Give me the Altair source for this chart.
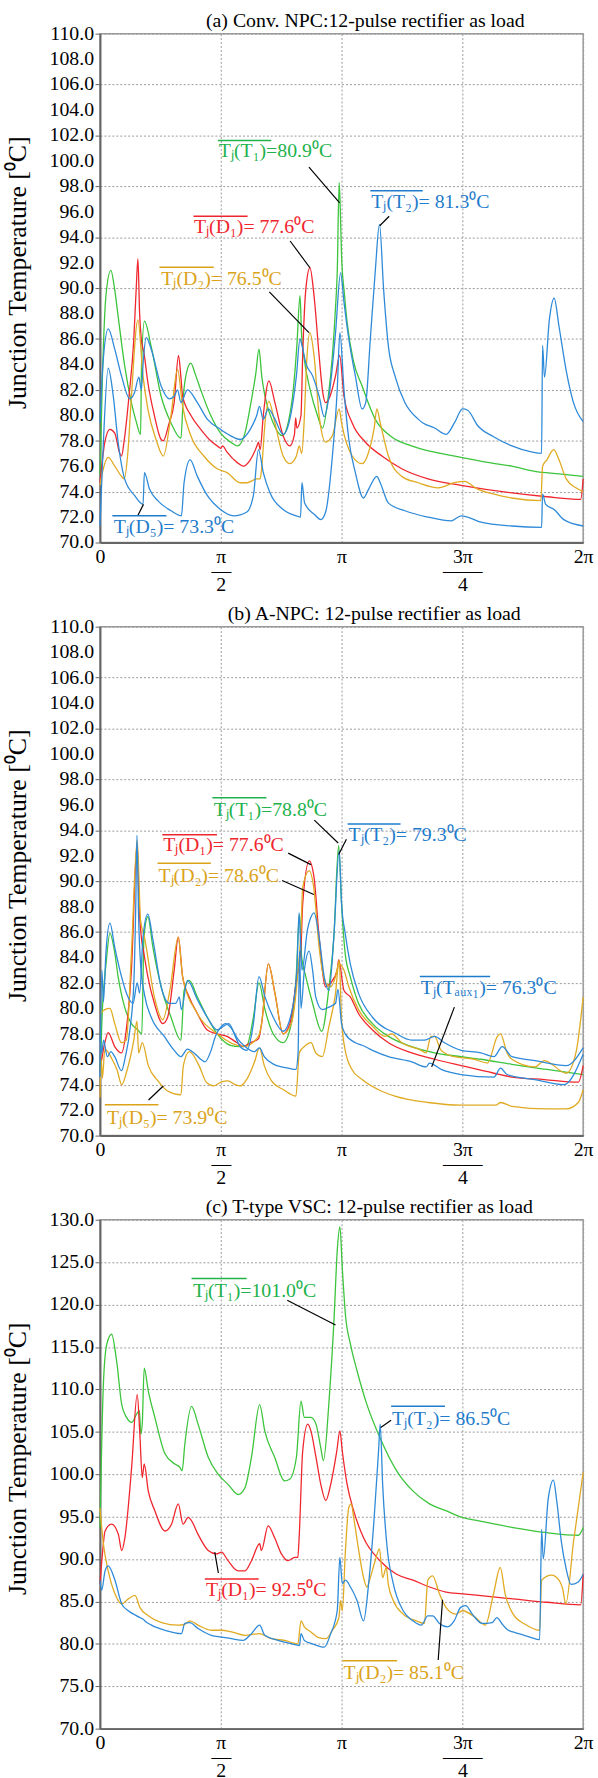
import altair as alt
import pandas as pd

FONT = "Liberation Serif"
GREEN, RED, ORANGE, BLUE = "#3cc43c", "#f0262e", "#e0aa22", "#2e8ad8"
GREEN_T, BLUE_T, ORANGE_T = "#22b24c", "#1f7ccc", "#dba31a"

# x in units of pi (0..2), y in degC
A_T1 = [(0.000,75.3),(0.010,83.0),(0.025,89.5),(0.045,91.4),(0.060,90.0),(0.075,87.8),(0.102,83.9),(0.130,81.0),(0.150,79.5),(0.168,78.5),(0.172,84.0),(0.184,87.4),(0.212,85.4),(0.253,81.5),(0.294,79.4),(0.335,78.2),(0.345,81.5),(0.360,83.5),(0.376,84.1),(0.395,83.2),(0.417,82.0),(0.458,80.0),(0.499,78.6),(0.540,77.9),(0.570,77.6),(0.600,78.6),(0.622,80.7),(0.645,83.3),(0.658,85.2),(0.670,83.0),(0.683,81.5),(0.717,79.4),(0.755,78.4),(0.780,79.5),(0.800,82.0),(0.815,85.5),(0.828,89.4),(0.834,86.5),(0.845,84.5),(0.870,82.0),(0.900,80.0),(0.921,79.0),(0.945,81.5),(0.962,84.7),(0.975,88.5),(0.982,91.2),(0.990,98.3),(0.995,96.0),(1.000,92.5),(1.012,89.5),(1.023,87.3),(1.050,84.2),(1.085,82.3),(1.139,79.7),(1.208,78.3),(1.289,77.6),(1.385,77.1),(1.495,76.7),(1.604,76.3),(1.705,76.0),(1.800,75.6),(1.900,75.4),(2.000,75.2)]
A_D1 = [(0.000,74.7),(0.010,76.5),(0.020,77.9),(0.041,78.9),(0.061,78.6),(0.082,77.0),(0.089,76.8),(0.100,78.0),(0.120,81.5),(0.140,86.0),(0.150,90.0),(0.157,92.3),(0.164,88.0),(0.171,86.0),(0.182,84.9),(0.198,82.6),(0.225,80.0),(0.253,78.1),(0.262,78.0),(0.285,79.3),(0.307,81.0),(0.325,84.7),(0.335,83.0),(0.342,81.5),(0.376,80.0),(0.417,78.9),(0.458,78.0),(0.492,77.5),(0.500,77.4),(0.507,77.6),(0.526,77.1),(0.567,76.3),(0.594,76.0),(0.622,76.5),(0.650,77.6),(0.656,77.9),(0.663,77.3),(0.676,80.0),(0.699,82.7),(0.724,81.0),(0.758,78.4),(0.786,77.6),(0.805,78.5),(0.810,79.8),(0.815,79.0),(0.832,80.0),(0.839,84.7),(0.852,89.9),(0.869,91.6),(0.886,89.4),(0.907,84.7),(0.922,81.8),(0.934,81.0),(0.948,81.3),(0.975,83.1),(0.992,84.7),(1.010,81.5),(1.044,79.4),(1.098,77.9),(1.167,76.8),(1.249,75.8),(1.358,75.0),(1.495,74.5),(1.705,73.9),(1.850,73.6),(1.990,73.4),(2.000,75.0)]
A_D2 = [(0.000,74.5),(0.010,75.5),(0.034,76.7),(0.061,76.0),(0.089,75.2),(0.100,75.0),(0.115,77.0),(0.130,81.5),(0.157,87.5),(0.178,83.1),(0.198,80.5),(0.232,78.1),(0.262,76.8),(0.294,80.0),(0.321,83.6),(0.342,80.7),(0.376,78.4),(0.430,76.8),(0.485,75.8),(0.526,75.5),(0.580,74.7),(0.608,74.7),(0.649,75.0),(0.663,75.0),(0.670,76.0),(0.683,79.4),(0.699,81.1),(0.724,79.4),(0.758,76.8),(0.786,76.2),(0.813,76.8),(0.825,77.6),(0.835,77.0),(0.845,79.5),(0.855,84.0),(0.869,86.5),(0.886,84.7),(0.907,80.0),(0.934,77.9),(0.962,78.4),(0.990,80.5),(1.000,79.4),(1.044,76.8),(1.085,76.2),(1.112,77.1),(1.135,79.0),(1.146,80.5),(1.160,79.4),(1.194,76.8),(1.249,75.2),(1.317,74.7),(1.400,74.3),(1.467,74.7),(1.508,74.8),(1.563,74.2),(1.631,73.8),(1.705,73.5),(1.825,73.3),(1.832,76.0),(1.850,76.5),(1.878,77.3),(1.900,76.5),(1.930,75.0),(1.970,74.3),(2.000,74.0)]
A_T2 = [(0.000,79.4),(0.012,84.0),(0.034,86.8),(0.061,85.2),(0.089,83.1),(0.123,81.3),(0.143,81.8),(0.161,83.0),(0.171,82.0),(0.180,84.5),(0.191,86.1),(0.212,85.2),(0.253,82.3),(0.287,81.3),(0.307,81.5),(0.321,82.0),(0.335,81.0),(0.362,82.0),(0.403,81.0),(0.444,79.7),(0.499,78.9),(0.540,78.4),(0.580,78.1),(0.622,78.9),(0.649,80.0),(0.660,80.7),(0.676,79.7),(0.697,80.5),(0.724,79.7),(0.758,78.5),(0.786,79.7),(0.813,83.1),(0.828,86.0),(0.836,85.5),(0.852,84.1),(0.880,83.1),(0.907,81.5),(0.928,79.9),(0.948,81.5),(0.975,86.5),(0.996,91.2),(1.010,88.9),(1.030,86.0),(1.057,83.1),(1.085,80.5),(1.100,81.0),(1.119,86.0),(1.139,91.2),(1.157,95.0),(1.174,89.9),(1.194,85.4),(1.221,83.1),(1.262,81.0),(1.317,79.7),(1.337,79.4),(1.385,79.0),(1.433,78.5),(1.467,79.4),(1.501,80.5),(1.522,80.4),(1.563,79.2),(1.631,78.3),(1.705,77.6),(1.790,77.1),(1.828,77.0),(1.832,85.5),(1.840,83.0),(1.860,87.5),(1.880,89.2),(1.900,87.0),(1.930,83.5),(1.960,81.0),(2.000,79.5)]
A_D5 = [(0.000,71.3),(0.012,77.0),(0.034,83.7),(0.055,81.5),(0.075,77.9),(0.102,75.0),(0.143,73.7),(0.178,73.0),(0.184,75.5),(0.205,74.2),(0.239,73.3),(0.294,72.5),(0.337,72.1),(0.348,74.7),(0.373,76.5),(0.403,75.2),(0.444,73.7),(0.499,72.6),(0.553,72.1),(0.608,72.4),(0.635,73.7),(0.656,77.3),(0.676,75.5),(0.704,73.9),(0.758,72.6),(0.813,72.1),(0.830,72.0),(0.836,74.7),(0.847,73.1),(0.888,72.2),(0.914,71.8),(0.934,72.4),(0.962,76.8),(0.982,82.0),(0.993,86.5),(1.010,82.0),(1.030,78.1),(1.057,75.5),(1.091,73.5),(1.112,74.2),(1.146,75.2),(1.160,74.7),(1.194,73.1),(1.262,72.5),(1.358,72.0),(1.454,71.7),(1.495,72.1),(1.522,72.0),(1.577,71.6),(1.705,71.3),(1.828,71.2),(1.832,73.8),(1.845,73.0),(1.880,72.6),(1.920,71.8),(2.000,71.3)]

B_T1 = [(0.000,75.0),(0.010,80.0),(0.025,83.5),(0.041,85.9),(0.060,84.5),(0.075,82.5),(0.102,80.1),(0.130,78.8),(0.157,78.3),(0.173,78.0),(0.182,85.6),(0.198,87.2),(0.219,84.8),(0.253,81.7),(0.294,79.3),(0.335,77.5),(0.348,81.4),(0.369,82.2),(0.403,80.9),(0.444,79.3),(0.485,78.0),(0.540,77.1),(0.580,77.0),(0.608,77.1),(0.635,79.3),(0.658,82.0),(0.683,79.9),(0.717,78.0),(0.758,77.3),(0.792,78.8),(0.812,82.5),(0.826,87.4),(0.835,84.0),(0.852,82.5),(0.880,80.4),(0.918,78.2),(0.948,81.7),(0.968,85.6),(0.988,92.8),(1.000,88.2),(1.015,84.3),(1.036,82.5),(1.070,80.4),(1.128,78.8),(1.194,77.8),(1.290,77.0),(1.385,76.5),(1.495,76.2),(1.577,76.0),(1.705,75.6),(1.850,75.2),(2.000,74.8)]
B_T2 = [(0.000,74.6),(0.008,83.0),(0.014,80.5),(0.025,84.5),(0.041,86.7),(0.061,84.8),(0.089,82.5),(0.116,80.9),(0.137,80.4),(0.154,82.0),(0.164,81.2),(0.178,85.6),(0.198,87.4),(0.219,85.4),(0.253,81.7),(0.287,80.4),(0.314,80.4),(0.328,80.9),(0.337,79.9),(0.362,82.2),(0.403,80.7),(0.444,79.3),(0.485,78.3),(0.512,78.6),(0.533,78.8),(0.560,77.8),(0.580,77.0),(0.608,76.7),(0.635,78.8),(0.658,82.5),(0.683,80.9),(0.717,79.3),(0.758,78.2),(0.792,79.6),(0.815,83.0),(0.824,87.5),(0.836,83.0),(0.859,86.2),(0.870,87.0),(0.886,87.5),(0.907,85.6),(0.928,82.5),(0.948,81.4),(0.968,85.6),(0.990,92.4),(1.000,88.2),(1.015,85.9),(1.036,83.5),(1.070,81.2),(1.128,79.3),(1.194,78.3),(1.207,78.2),(1.290,77.5),(1.344,77.5),(1.385,77.8),(1.426,77.3),(1.495,76.7),(1.577,76.5),(1.631,76.2),(1.665,77.0),(1.705,76.2),(1.800,75.9),(1.930,75.5),(2.000,76.9)]
B_TAUX1 = [(0.000,77.8),(0.007,76.5),(0.015,77.5),(0.030,76.2),(0.045,76.6),(0.061,76.2),(0.089,75.1),(0.105,76.2),(0.125,78.5),(0.140,82.0),(0.148,88.0),(0.153,93.6),(0.160,87.0),(0.168,83.5),(0.185,81.0),(0.212,79.3),(0.266,77.8),(0.307,76.7),(0.335,76.2),(0.362,76.8),(0.389,76.5),(0.417,76.0),(0.435,75.8),(0.458,76.6),(0.478,77.8),(0.499,78.5),(0.520,78.8),(0.545,78.4),(0.570,77.6),(0.600,77.0),(0.640,76.6),(0.660,76.9),(0.680,76.2),(0.720,75.6),(0.780,75.3),(0.811,75.2),(0.820,76.5),(0.826,84.5),(0.832,80.0),(0.846,83.0),(0.866,84.5),(0.880,83.0),(0.893,80.9),(0.920,79.9),(0.948,80.1),(0.975,80.4),(0.985,81.5),(1.000,78.8),(1.015,78.0),(1.057,77.3),(1.085,77.1),(1.128,76.7),(1.194,76.2),(1.290,75.8),(1.350,75.4),(1.364,75.7),(1.412,75.2),(1.495,74.8),(1.631,74.6),(1.658,75.3),(1.685,74.8),(1.800,74.4),(1.920,74.0),(2.000,76.4)]
B_D1 = [(0.000,75.1),(0.020,77.3),(0.034,78.1),(0.061,77.0),(0.089,76.5),(0.110,78.5),(0.130,83.0),(0.154,93.0),(0.162,88.0),(0.171,85.6),(0.182,84.3),(0.198,82.5),(0.225,80.4),(0.260,78.8),(0.280,79.3),(0.307,83.0),(0.324,85.6),(0.342,82.5),(0.369,80.9),(0.403,79.6),(0.444,78.3),(0.485,78.0),(0.526,77.8),(0.567,77.3),(0.594,77.0),(0.622,77.3),(0.656,77.6),(0.669,78.8),(0.697,83.5),(0.724,81.2),(0.758,78.0),(0.786,78.8),(0.813,82.2),(0.832,84.8),(0.839,88.2),(0.866,91.6),(0.886,90.3),(0.907,85.6),(0.934,81.7),(0.955,82.0),(0.982,83.0),(0.988,83.8),(1.010,81.4),(1.036,80.9),(1.070,79.6),(1.128,78.3),(1.194,77.3),(1.290,76.5),(1.385,76.0),(1.495,75.5),(1.631,74.9),(1.705,74.6),(1.840,74.4),(1.980,74.2),(2.000,75.5)]
B_D2 = [(0.000,79.6),(0.020,79.9),(0.041,80.0),(0.061,78.8),(0.089,77.3),(0.109,77.5),(0.130,84.3),(0.154,93.2),(0.168,86.9),(0.184,85.6),(0.225,80.9),(0.260,79.1),(0.290,81.5),(0.324,85.6),(0.342,82.5),(0.403,79.6),(0.485,78.0),(0.594,77.0),(0.656,77.8),(0.669,78.8),(0.697,83.5),(0.724,81.2),(0.758,78.0),(0.792,78.8),(0.820,83.0),(0.832,86.1),(0.839,89.5),(0.866,90.8),(0.886,89.3),(0.907,84.8),(0.934,82.0),(0.955,81.7),(0.975,82.5),(0.988,83.5),(1.010,83.0),(1.030,81.7),(1.070,79.9),(1.128,78.6),(1.180,77.8),(1.207,78.0),(1.249,77.3),(1.330,76.7),(1.350,76.5),(1.370,77.8),(1.385,77.8),(1.412,76.7),(1.467,76.2),(1.549,76.0),(1.604,75.7),(1.645,77.8),(1.658,78.0),(1.685,76.5),(1.705,76.0),(1.800,75.4),(1.840,75.9),(1.930,74.9),(1.970,76.5),(2.000,80.9)]
B_D5 = [(0.000,73.0),(0.005,76.0),(0.010,74.5),(0.020,76.8),(0.050,76.0),(0.070,75.2),(0.090,74.0),(0.110,75.0),(0.140,77.5),(0.153,79.0),(0.160,76.5),(0.175,77.3),(0.200,75.5),(0.240,74.3),(0.280,73.5),(0.335,73.2),(0.345,75.5),(0.370,76.6),(0.410,75.5),(0.440,74.2),(0.470,73.9),(0.500,74.2),(0.530,74.3),(0.560,74.0),(0.580,73.9),(0.610,74.5),(0.640,75.8),(0.660,76.9),(0.680,75.5),(0.710,74.3),(0.760,73.6),(0.811,73.1),(0.825,76.5),(0.846,77.0),(0.874,77.3),(0.893,76.5),(0.920,76.2),(0.948,78.6),(0.975,81.2),(0.990,83.8),(1.000,79.1),(1.015,76.7),(1.043,75.2),(1.085,74.4),(1.153,73.6),(1.221,73.1),(1.358,72.6),(1.495,72.4),(1.640,72.4),(1.658,72.6),(1.705,72.3),(1.850,72.1),(1.930,72.1),(1.980,72.6),(2.000,73.6)]

C_T1 = [(0.000,93.7),(0.014,110.6),(0.028,115.3),(0.048,116.5),(0.069,113.3),(0.090,108.2),(0.110,106.7),(0.131,106.1),(0.152,107.1),(0.163,107.5),(0.169,104.7),(0.175,106.0),(0.183,112.5),(0.200,109.8),(0.227,106.7),(0.269,102.4),(0.310,101.2),(0.331,100.8),(0.340,100.4),(0.351,103.5),(0.379,108.0),(0.406,105.9),(0.448,102.0),(0.489,100.0),(0.530,98.8),(0.572,97.6),(0.600,98.4),(0.627,102.0),(0.661,108.2),(0.682,105.1),(0.723,102.0),(0.764,99.2),(0.785,99.4),(0.813,102.0),(0.832,108.6),(0.846,106.7),(0.873,106.7),(0.894,105.9),(0.914,103.1),(0.925,101.6),(0.948,108.6),(0.969,118.4),(0.982,126.3),(0.993,129.2),(1.003,124.3),(1.016,118.8),(1.037,115.3),(1.064,112.2),(1.105,108.2),(1.159,104.3),(1.228,100.4),(1.296,98.0),(1.364,96.5),(1.432,95.7),(1.500,94.9),(1.568,94.5),(1.636,94.1),(1.710,93.7),(1.850,93.1),(1.980,92.8),(2.000,93.7)]
C_D1 = [(0.000,87.1),(0.010,90.6),(0.021,93.3),(0.048,94.1),(0.076,92.9),(0.090,91.0),(0.103,92.5),(0.131,100.8),(0.154,109.4),(0.165,104.7),(0.175,99.6),(0.183,101.2),(0.200,98.0),(0.227,95.7),(0.269,93.3),(0.296,94.1),(0.324,96.5),(0.344,94.1),(0.365,94.9),(0.379,94.5),(0.406,92.9),(0.448,91.0),(0.482,90.6),(0.503,90.8),(0.530,89.8),(0.572,88.6),(0.600,88.6),(0.627,89.8),(0.661,91.8),(0.668,91.0),(0.696,93.9),(0.723,92.5),(0.751,90.6),(0.778,89.8),(0.806,90.2),(0.819,90.2),(0.825,92.9),(0.839,102.7),(0.860,105.9),(0.873,105.1),(0.894,102.0),(0.914,98.8),(0.935,96.9),(0.955,98.8),(0.980,102.7),(0.993,105.1),(1.003,102.7),(1.023,98.8),(1.050,95.7),(1.091,92.5),(1.159,89.8),(1.228,88.2),(1.296,87.5),(1.364,86.7),(1.432,86.1),(1.500,85.9),(1.636,85.5),(1.710,85.3),(1.850,84.9),(1.990,84.6),(2.000,88.2)]
C_D2 = [(0.000,96.0),(0.014,91.8),(0.034,88.6),(0.062,85.9),(0.090,84.7),(0.117,85.3),(0.145,85.7),(0.165,84.3),(0.200,83.3),(0.255,82.5),(0.324,82.2),(0.350,82.3),(0.372,82.7),(0.406,82.2),(0.461,81.6),(0.503,81.6),(0.544,81.4),(0.600,81.0),(0.661,81.2),(0.709,80.6),(0.764,80.4),(0.819,80.0),(0.832,82.7),(0.846,82.0),(0.873,81.4),(0.900,80.8),(0.935,80.6),(0.962,81.6),(0.989,83.1),(0.996,85.1),(1.003,83.9),(1.016,91.0),(1.030,96.1),(1.040,96.5),(1.050,94.9),(1.071,91.0),(1.091,87.8),(1.105,86.7),(1.119,87.8),(1.139,89.8),(1.157,91.2),(1.170,87.8),(1.185,89.0),(1.193,87.1),(1.214,85.1),(1.255,83.5),(1.309,82.7),(1.343,82.4),(1.357,87.5),(1.377,88.0),(1.405,85.9),(1.432,84.3),(1.473,83.5),(1.500,83.9),(1.554,83.1),(1.595,82.2),(1.629,85.9),(1.657,89.0),(1.677,85.9),(1.710,83.5),(1.760,82.3),(1.820,81.6),(1.828,87.5),(1.869,88.1),(1.900,87.5),(1.915,86.5),(1.928,84.7),(1.960,92.0),(2.000,100.2)]
C_T2 = [(0.000,87.5),(0.007,86.3),(0.021,88.6),(0.034,89.2),(0.062,87.5),(0.090,84.7),(0.117,83.9),(0.152,83.3),(0.165,83.1),(0.179,82.9),(0.186,82.7),(0.213,82.2),(0.269,81.6),(0.337,81.2),(0.351,82.4),(0.372,82.5),(0.406,81.8),(0.461,81.0),(0.503,80.8),(0.544,80.6),(0.592,80.4),(0.627,81.2),(0.661,82.2),(0.682,81.0),(0.737,80.4),(0.792,80.0),(0.826,79.8),(0.832,81.2),(0.846,80.4),(0.880,80.0),(0.928,79.6),(0.955,81.2),(0.982,83.9),(0.993,90.2),(1.003,87.1),(1.016,87.5),(1.037,86.7),(1.064,85.1),(1.091,82.7),(1.112,87.1),(1.135,94.9),(1.153,102.7),(1.160,105.9),(1.170,98.8),(1.187,91.8),(1.214,87.1),(1.255,83.9),(1.296,82.7),(1.330,82.2),(1.357,83.3),(1.377,83.3),(1.405,82.4),(1.439,82.0),(1.466,82.7),(1.493,84.3),(1.514,84.5),(1.541,83.5),(1.582,82.4),(1.623,82.5),(1.643,83.1),(1.663,82.4),(1.690,81.6),(1.710,81.4),(1.780,80.8),(1.820,80.5),(1.828,93.5),(1.835,90.0),(1.855,97.0),(1.877,99.3),(1.890,97.0),(1.910,92.0),(1.930,88.8),(1.950,87.0),(1.980,87.3),(2.000,88.2)]

# annotations: (x, T, text, color)
A_LABELS = [(0.492,100.75,"Tⱼ(T₁)=80.9⁰C",GREEN_T),(1.123,96.8,"Tⱼ(T₂)= 81.3⁰C",BLUE_T),(0.389,94.8,"Tⱼ(D₁)= 77.6⁰C",RED),(0.254,90.7,"Tⱼ(D₂)= 76.5⁰C",ORANGE_T),(0.057,71.2,"Tⱼ(D₅)= 73.3⁰C",BLUE_T)]
A_BARS = [(0.488,0.709,101.6,GREEN_T),(1.119,1.336,97.66,BLUE_T),(0.387,0.611,95.65,RED),(0.246,0.471,91.64,ORANGE_T),(0.051,0.275,72.1,BLUE_T)]
A_LEADS = [(0.865,99.5,0.992,96.7),(1.197,95.65,1.158,94.9),(0.787,93.7,0.869,91.6),(0.701,89.7,0.865,86.5),(0.156,72.1,0.180,73.0)]

B_LABELS = [(0.471,95.6,"Tⱼ(T₁)=78.8⁰C",GREEN_T),(1.029,93.65,"Tⱼ(T₂)= 79.3⁰C",BLUE_T),(0.262,92.8,"Tⱼ(D₁)= 77.6⁰C",RED),(0.242,90.4,"Tⱼ(D₂)= 78.6⁰C",ORANGE_T),(1.328,81.6,"Tⱼ(Tₐᵤₓ₁)= 76.3⁰C",BLUE_T),(0.029,71.4,"Tⱼ(D₅)= 73.9⁰C",ORANGE_T)]
B_BARS = [(0.465,0.689,96.55,GREEN_T),(1.025,1.244,94.5,BLUE_T),(0.258,0.484,93.65,RED),(0.238,0.459,91.4,ORANGE_T),(1.324,1.615,82.5,BLUE_T),(0.020,0.242,72.43,ORANGE_T)]
B_LEADS = [(0.887,94.8,0.986,93.0),(1.020,93.3,0.988,92.1),(0.779,92.2,0.873,91.3),(0.754,90.05,0.885,88.95),(1.467,80.1,1.373,75.4),(0.201,72.8,0.262,73.9)]

C_LABELS = [(0.385,121.65,"Tⱼ(T₁)=101.0⁰C",GREEN_T),(1.209,106.5,"Tⱼ(T₂)= 86.5⁰C",BLUE_T),(0.439,86.35,"Tⱼ(D₁)= 92.5⁰C",RED),(1.008,76.5,"Tⱼ(D₂)= 85.1⁰C",ORANGE_T)]
C_BARS = [(0.379,0.607,123.06,GREEN_T),(1.205,1.428,108.0,BLUE_T),(0.434,0.657,87.65,RED),(1.004,1.230,78.0,ORANGE_T)]
C_LEADS = [(0.775,120.5,0.975,117.6),(1.205,106.35,1.162,105.5),(0.490,88.35,0.475,90.8),(1.400,78.1,1.418,85.2)]

X_TICKS = [0, 0.5, 1, 1.5, 2]
X_LABEL_EXPR = ("datum.value == 0.5 ? ['π','—','2'] : datum.value == 1.5 ? ['3π','——','4'] : "
                "datum.value == 1 ? 'π' : datum.value == 2 ? '2π' : '0'")


def lines_df(series):
    frames = []
    for name, color, pts in series:
        frames.append(pd.DataFrame({"x": [p[0] for p in pts], "T": [p[1] for p in pts],
                                    "series": name, "col": color, "i": range(len(pts))}))
    return pd.concat(frames, ignore_index=True)


def panel(title, dx, series, ymin, ymax, ystep, labels, bars, leads):
    yticks = [float(ymin + k * ystep) for k in range(int(round((ymax - ymin) / ystep)) + 1)]
    xenc = alt.X("x:Q", scale=alt.Scale(domain=[0, 2], nice=False, zero=False),
                 axis=alt.Axis(values=X_TICKS, labelExpr=X_LABEL_EXPR, title=None, grid=True,
                               ticks=False, labelLineHeight=14, labelPadding=4,
                               labelBaseline="top", labelFlush=False, labelOverlap=False))
    yenc = alt.Y("T:Q", scale=alt.Scale(domain=[ymin, ymax], nice=False, zero=False),
                 axis=alt.Axis(values=yticks, title="Junction Temperature [⁰C]",
                               grid=True, tickSize=5, labels=False,
                               titleX=-70, titleY=241))
    line = alt.Chart(lines_df(series)).mark_line(strokeWidth=1.3, interpolate="monotone").encode(
        x=xenc, y=yenc, color=alt.Color("col:N", scale=None), detail="series:N", order="i:Q")
    tdf = pd.DataFrame({"T": yticks, "lab": [f"{v:.1f}" for v in yticks]})
    ylab = alt.Chart(tdf).mark_text(align="right", baseline="middle", font=FONT, fontSize=20,
                                    color="black").encode(
        x=alt.value(-6), y="T:Q", text="lab:N")
    ldf = pd.DataFrame(labels, columns=["x", "T", "text", "col"])
    text = alt.Chart(ldf).mark_text(align="left", baseline="middle", font=FONT, fontSize=20).encode(
        x=alt.X("x:Q"), y=alt.Y("T:Q"), text="text:N", color=alt.Color("col:N", scale=None))
    bdf = pd.DataFrame(bars, columns=["x", "x2", "T", "col"])
    bar = alt.Chart(bdf).mark_rule(strokeWidth=1.5).encode(
        x="x:Q", x2="x2:Q", y="T:Q", color=alt.Color("col:N", scale=None))
    gdf = pd.DataFrame(leads, columns=["x", "T", "x2", "T2"])
    lead = alt.Chart(gdf).mark_rule(strokeWidth=1.2, color="black").encode(
        x="x:Q", y="T:Q", x2="x2:Q", y2="T2:Q")
    return alt.layer(line, ylab, lead, bar, text).properties(
        width=488, height=514,
        title=alt.TitleParams(title, font=FONT, fontSize=20, fontWeight="normal", color="black",
                              anchor="middle", frame="group", dx=dx, offset=-7))


pa = panel("(a) Conv. NPC:12-pulse rectifier as load", 24,
           [("A_T1", GREEN, A_T1), ("A_D1", RED, A_D1), ("A_D2", ORANGE, A_D2),
            ("A_T2", BLUE, A_T2), ("A_D5", BLUE, A_D5)],
           70, 110, 2, A_LABELS, A_BARS, A_LEADS)
pb = panel("(b) A-NPC: 12-pulse rectifier as load", 33,
           [("B_T1", GREEN, B_T1), ("B_D1", RED, B_D1), ("B_D2", ORANGE, B_D2),
            ("B_D5", ORANGE, B_D5), ("B_T2", BLUE, B_T2), ("B_TAUX1", BLUE, B_TAUX1)],
           70, 110, 2, B_LABELS, B_BARS, B_LEADS)
pc = panel("(c) T-type VSC: 12-pulse rectifier as load", 28,
           [("C_T1", GREEN, C_T1), ("C_D1", RED, C_D1), ("C_D2", ORANGE, C_D2),
            ("C_T2", BLUE, C_T2)],
           70, 130, 5, C_LABELS, C_BARS, C_LEADS)

chart = alt.vconcat(pa, pb, pc, spacing=8).properties(
    padding={"left": 4, "top": 1, "right": 4, "bottom": 0}
).configure_view(stroke="#9a9a9a", strokeWidth=1.5).configure_axis(
    labelFont=FONT, labelFontSize=20, labelColor="black",
    titleFont=FONT, titleFontSize=26, titleFontWeight="normal", titleColor="black",
    gridColor="#9a9a9a", gridDash=[2, 2], gridWidth=1,
    domainColor="#666666", domainWidth=2, tickColor="#666666"
).configure_text(font=FONT)

chart.save("out.html", embed_options={"renderer": "svg", "actions": False})
